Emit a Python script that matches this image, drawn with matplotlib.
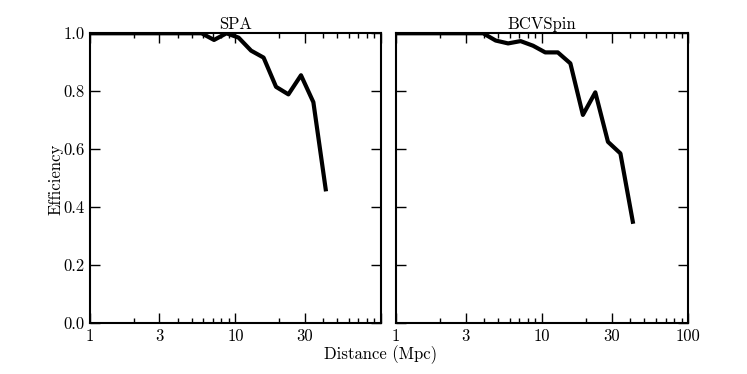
import numpy as np
import matplotlib
matplotlib.use("Agg")
import matplotlib.pyplot as plt
from matplotlib.ticker import FixedLocator, FixedFormatter, LogLocator, NullFormatter

plt.rcParams['font.family'] = 'serif'
plt.rcParams['font.serif'] = ['cmr10', 'DejaVu Serif']
plt.rcParams['mathtext.fontset'] = 'cm'
plt.rcParams['axes.formatter.use_mathtext'] = True

# distances (Mpc) shared by both panels
distance = [1.0, 1.22, 1.48, 1.80, 2.19, 2.67, 3.25, 3.95, 4.81, 5.85,
            7.12, 8.67, 10.5, 12.8, 15.6, 19.0, 23.1, 28.2, 34.3, 41.7]

spa_eff = [1.0, 1.0, 1.0, 1.0, 1.0, 1.0, 1.0, 1.0, 1.0, 1.0,
           0.977, 1.0, 0.985, 0.94, 0.916, 0.815, 0.789, 0.855, 0.762, 0.461]

bcv_eff = [1.0, 1.0, 1.0, 1.0, 1.0, 1.0, 1.0, 1.0, 0.975, 0.965,
           0.973, 0.957, 0.934, 0.934, 0.896, 0.718, 0.796, 0.625, 0.585, 0.349]

titles = ['SPA', 'BCVSpin']
xticks = [1, 3, 10, 30, 100]
yticks = [0.0, 0.2, 0.4, 0.6, 0.8, 1.0]

fig = plt.figure(figsize=(7.47, 3.74), dpi=100)
ax1 = fig.add_axes([0.1205, 0.137, 0.3895, 0.774])
ax2 = fig.add_axes([0.530, 0.137, 0.3915, 0.774])

fs = 12
for ax, eff, title in zip([ax1, ax2], [spa_eff, bcv_eff], titles):
    ax.plot(distance, eff, color='black', lw=3)
    ax.set_xscale('log')
    ax.set_xlim(1, 100)
    ax.set_ylim(0, 1)
    ax.xaxis.set_major_locator(FixedLocator(xticks))
    ax.xaxis.set_minor_locator(LogLocator(base=10, subs=(2, 4, 5, 6, 7, 8, 9)))
    ax.xaxis.set_minor_formatter(NullFormatter())
    ax.set_yticks(yticks)
    ax.tick_params(which='both', direction='in', top=True, right=True,
                   labelsize=fs, width=1, pad=4)
    ax.tick_params(which='major', length=7)
    ax.tick_params(which='minor', length=3.5)
    for s in ax.spines.values():
        s.set_linewidth(1.5)
    ax.set_title(title, fontsize=fs, pad=3)

ax1.xaxis.set_major_formatter(FixedFormatter(['1', '3', '10', '30', '']))
ax1.set_yticklabels(['0.0', '0.2', '0.4', '0.6', '0.8', '1.0'])
ax2.xaxis.set_major_formatter(FixedFormatter(['1', '3', '10', '30', '100']))
ax2.set_yticklabels([])

fig.text(56 / 747, 0.52, 'Efficiency', rotation=90, ha='center', va='center', fontsize=fs)
fig.text(0.51, 0.052, 'Distance (Mpc)', ha='center', va='center', fontsize=fs)

fig.savefig('out.png', dpi=100)
